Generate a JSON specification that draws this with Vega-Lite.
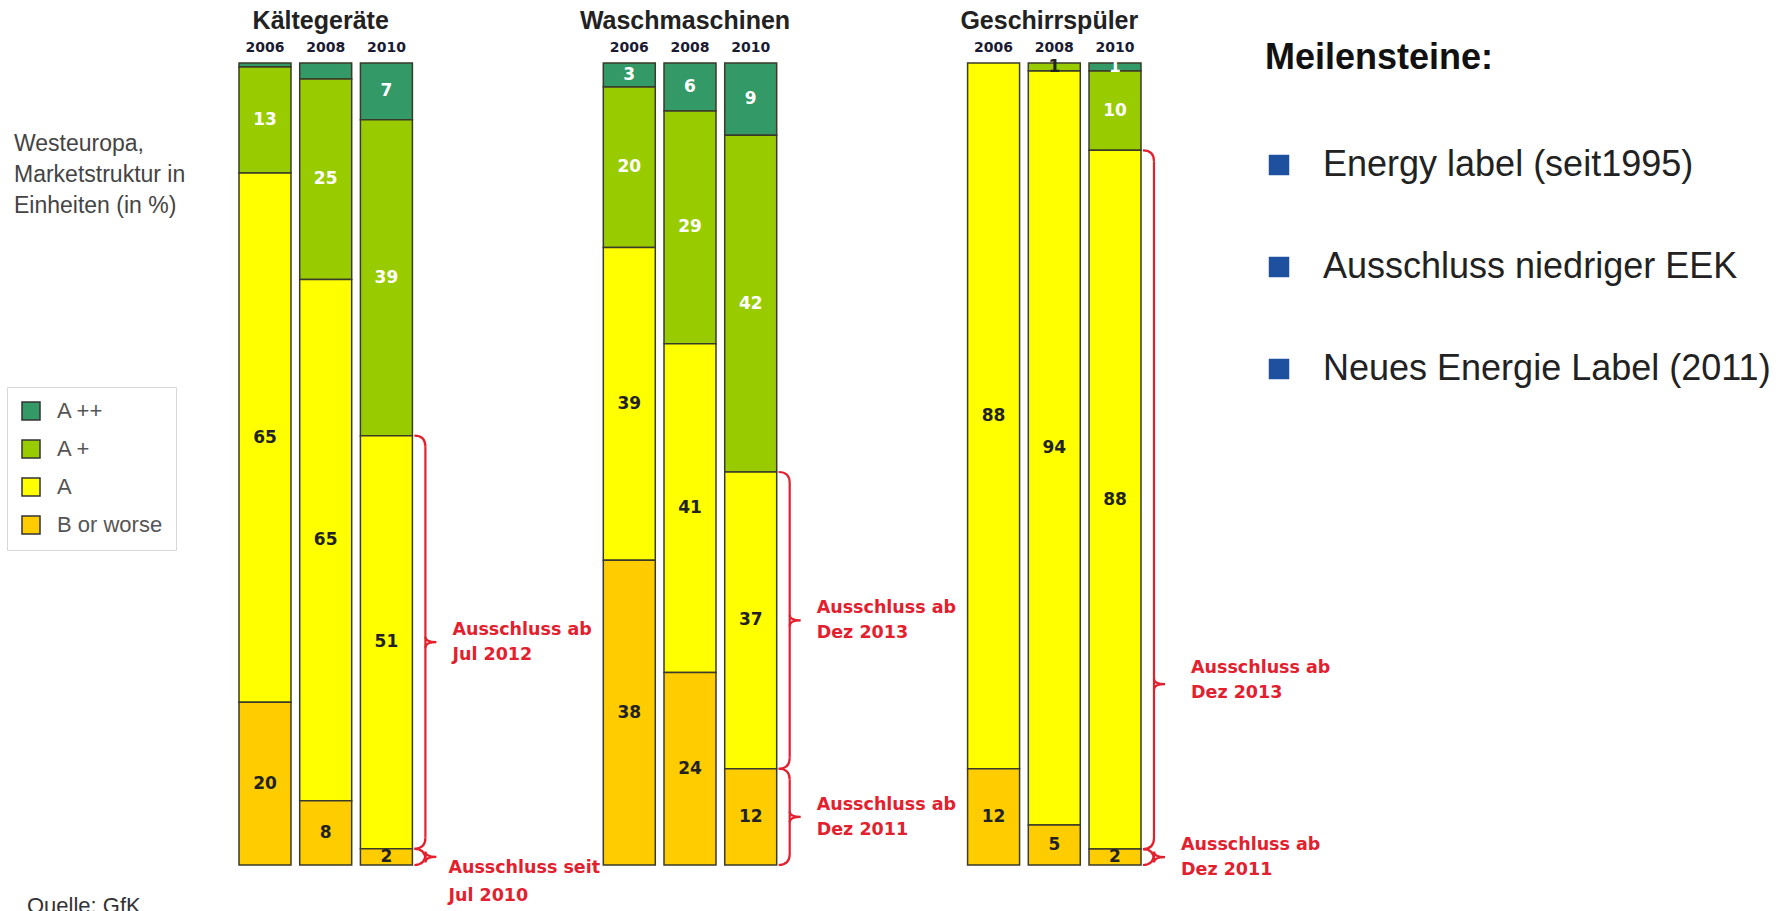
{
  "$schema": "https://vega.github.io/schema/vega-lite/v6.json",
  "width": 902,
  "height": 802,
  "autosize": "none",
  "padding": {"left": 239, "top": 63, "right": 646, "bottom": 46},
  "background": "white",
  "config": {
    "view": {"stroke": null},
    "axis": {"grid": false, "labels": false, "ticks": false, "domain": false}
  },
  "datasets": {
    "klassen": [
      {"gruppe": "Kältegeräte", "jahr": "2006", "klasse": "A ++", "rang": 4, "anteil": 0.5, "label": "", "hinweis": ""},
      {"gruppe": "Kältegeräte", "jahr": "2006", "klasse": "A +", "rang": 3, "anteil": 13, "label": "13", "hinweis": ""},
      {"gruppe": "Kältegeräte", "jahr": "2006", "klasse": "A", "rang": 2, "anteil": 65, "label": "65", "hinweis": ""},
      {"gruppe": "Kältegeräte", "jahr": "2006", "klasse": "B or worse", "rang": 1, "anteil": 20, "label": "20", "hinweis": ""},
      {"gruppe": "Kältegeräte", "jahr": "2008", "klasse": "A ++", "rang": 4, "anteil": 2, "label": "", "hinweis": ""},
      {"gruppe": "Kältegeräte", "jahr": "2008", "klasse": "A +", "rang": 3, "anteil": 25, "label": "25", "hinweis": ""},
      {"gruppe": "Kältegeräte", "jahr": "2008", "klasse": "A", "rang": 2, "anteil": 65, "label": "65", "hinweis": ""},
      {"gruppe": "Kältegeräte", "jahr": "2008", "klasse": "B or worse", "rang": 1, "anteil": 8, "label": "8", "hinweis": ""},
      {"gruppe": "Kältegeräte", "jahr": "2010", "klasse": "A ++", "rang": 4, "anteil": 7, "label": "7", "hinweis": ""},
      {"gruppe": "Kältegeräte", "jahr": "2010", "klasse": "A +", "rang": 3, "anteil": 39, "label": "39", "hinweis": ""},
      {"gruppe": "Kältegeräte", "jahr": "2010", "klasse": "A", "rang": 2, "anteil": 51, "label": "51", "hinweis": "Ausschluss ab\nJul 2012"},
      {"gruppe": "Kältegeräte", "jahr": "2010", "klasse": "B or worse", "rang": 1, "anteil": 2, "label": "2", "hinweis": "Ausschluss seit\nJul 2010"},
      {"gruppe": "Waschmaschinen", "jahr": "2006", "klasse": "A ++", "rang": 4, "anteil": 3, "label": "3", "hinweis": ""},
      {"gruppe": "Waschmaschinen", "jahr": "2006", "klasse": "A +", "rang": 3, "anteil": 20, "label": "20", "hinweis": ""},
      {"gruppe": "Waschmaschinen", "jahr": "2006", "klasse": "A", "rang": 2, "anteil": 39, "label": "39", "hinweis": ""},
      {"gruppe": "Waschmaschinen", "jahr": "2006", "klasse": "B or worse", "rang": 1, "anteil": 38, "label": "38", "hinweis": ""},
      {"gruppe": "Waschmaschinen", "jahr": "2008", "klasse": "A ++", "rang": 4, "anteil": 6, "label": "6", "hinweis": ""},
      {"gruppe": "Waschmaschinen", "jahr": "2008", "klasse": "A +", "rang": 3, "anteil": 29, "label": "29", "hinweis": ""},
      {"gruppe": "Waschmaschinen", "jahr": "2008", "klasse": "A", "rang": 2, "anteil": 41, "label": "41", "hinweis": ""},
      {"gruppe": "Waschmaschinen", "jahr": "2008", "klasse": "B or worse", "rang": 1, "anteil": 24, "label": "24", "hinweis": ""},
      {"gruppe": "Waschmaschinen", "jahr": "2010", "klasse": "A ++", "rang": 4, "anteil": 9, "label": "9", "hinweis": ""},
      {"gruppe": "Waschmaschinen", "jahr": "2010", "klasse": "A +", "rang": 3, "anteil": 42, "label": "42", "hinweis": ""},
      {"gruppe": "Waschmaschinen", "jahr": "2010", "klasse": "A", "rang": 2, "anteil": 37, "label": "37", "hinweis": "Ausschluss ab\nDez 2013"},
      {"gruppe": "Waschmaschinen", "jahr": "2010", "klasse": "B or worse", "rang": 1, "anteil": 12, "label": "12", "hinweis": "Ausschluss ab\nDez 2011"},
      {"gruppe": "Geschirrspüler", "jahr": "2006", "klasse": "A", "rang": 2, "anteil": 88, "label": "88", "hinweis": ""},
      {"gruppe": "Geschirrspüler", "jahr": "2006", "klasse": "B or worse", "rang": 1, "anteil": 12, "label": "12", "hinweis": ""},
      {"gruppe": "Geschirrspüler", "jahr": "2008", "klasse": "A +", "rang": 3, "anteil": 1, "label": "1", "hinweis": ""},
      {"gruppe": "Geschirrspüler", "jahr": "2008", "klasse": "A", "rang": 2, "anteil": 94, "label": "94", "hinweis": ""},
      {"gruppe": "Geschirrspüler", "jahr": "2008", "klasse": "B or worse", "rang": 1, "anteil": 5, "label": "5", "hinweis": ""},
      {"gruppe": "Geschirrspüler", "jahr": "2010", "klasse": "A ++", "rang": 4, "anteil": 1, "label": "1", "hinweis": ""},
      {"gruppe": "Geschirrspüler", "jahr": "2010", "klasse": "A +", "rang": 3, "anteil": 10, "label": "10", "hinweis": ""},
      {"gruppe": "Geschirrspüler", "jahr": "2010", "klasse": "A", "rang": 2, "anteil": 88, "label": "88", "hinweis": "Ausschluss ab\nDez 2013"},
      {"gruppe": "Geschirrspüler", "jahr": "2010", "klasse": "B or worse", "rang": 1, "anteil": 2, "label": "2", "hinweis": "Ausschluss ab\nDez 2011"}
    ],
    "meilensteine": [
      {"meilenstein": "Energy label (seit1995)"},
      {"meilenstein": "Ausschluss niedriger EEK"},
      {"meilenstein": "Neues Energie Label (2011)"}
    ]
  },
  "data": {"name": "klassen"},
  "layer": [
    {
      "mark": {"type": "bar", "stroke": "#3a3a2a", "strokeWidth": 1.5},
      "encoding": {
        "x": {
          "field": "gruppe", "type": "nominal",
          "scale": {"domain": ["Kältegeräte", "Waschmaschinen", "Geschirrspüler"], "paddingInner": 0.524, "paddingOuter": 0},
          "axis": null
        },
        "xOffset": {"field": "jahr", "type": "nominal", "scale": {"domain": ["2006", "2008", "2010"], "paddingInner": 0.1436, "paddingOuter": 0}},
        "y": {
          "field": "anteil", "type": "quantitative", "stack": "normalize",
          "scale": {"domain": [0, 1], "nice": false},
          "axis": null
        },
        "color": {
          "field": "klasse", "type": "nominal",
          "scale": {"domain": ["A ++", "A +", "A", "B or worse"], "range": ["#339966", "#99cc00", "#ffff00", "#ffcc00"]},
          "legend": {"title": null, "orient": "none", "legendX": -232, "legendY": 324, "padding": 13, "strokeColor": "#d8d8d8", "fillColor": "white", "symbolType": "square", "symbolSize": 324, "symbolStrokeColor": "#333333", "symbolStrokeWidth": 1.5, "symbolOpacity": 1, "labelFont": "Liberation Sans", "labelFontSize": 22, "labelColor": "#555555", "labelOffset": 15, "rowPadding": 14}
        },
        "order": {"field": "rang", "type": "quantitative"}
      }
    },
    {
      "mark": {"type": "text", "font": "DejaVu Sans", "fontWeight": "bold", "fontSize": 17, "baseline": "middle", "align": "center"},
      "encoding": {
        "x": {"field": "gruppe", "type": "nominal", "axis": null},
        "xOffset": {"field": "jahr", "type": "nominal"},
        "y": {"field": "anteil", "type": "quantitative", "stack": "normalize", "bandPosition": 0.5, "axis": null},
        "detail": {"field": "klasse", "type": "nominal"},
        "order": {"field": "rang", "type": "quantitative"},
        "text": {"field": "label", "type": "nominal"},
        "color": {"condition": {"test": "datum.rang == 4 || (datum.rang == 3 && datum.anteil > 1)", "value": "#ffffff"}, "value": "#222222"}
      }
    },
    {
      "transform": [{"filter": "datum.klasse == 'A'"}],
      "mark": {"type": "text", "font": "DejaVu Sans", "fontWeight": "bold", "fontSize": 14, "baseline": "middle", "align": "center", "dy": -15, "color": "#1a1a33"},
      "encoding": {
        "x": {"field": "gruppe", "type": "nominal", "axis": null},
        "xOffset": {"field": "jahr", "type": "nominal"},
        "y": {"datum": 1, "type": "quantitative", "axis": null},
        "text": {"field": "jahr", "type": "nominal"}
      }
    },
    {
      "transform": [{"filter": "datum.jahr == '2006' && datum.klasse == 'A'"}],
      "mark": {"type": "text", "font": "Liberation Sans", "fontWeight": "bold", "fontSize": 25, "baseline": "alphabetic", "align": "center", "dy": -34, "dx": -5, "color": "#222222"},
      "encoding": {
        "x": {"field": "gruppe", "type": "nominal", "axis": null},
        "y": {"datum": 1, "type": "quantitative", "axis": null},
        "text": {"field": "gruppe", "type": "nominal"}
      }
    },
    {
      "data": {"values": [{"notiz": "Westeuropa, Marketstruktur in Einheiten (in %)"}]},
      "mark": {"type": "text", "font": "Liberation Sans", "fontSize": 23, "align": "left", "baseline": "middle", "lineHeight": 31, "dx": -225, "dy": 81, "color": "#444444", "text": ["Westeuropa,", "Marketstruktur in", "Einheiten (in %)"]},
      "encoding": {
        "x": {"datum": "Kältegeräte", "type": "nominal", "bandPosition": 0, "axis": null},
        "y": {"datum": 1, "type": "quantitative", "axis": null}
      }
    },
    {
      "data": {"values": [{"notiz": "Quelle: GfK"}]},
      "mark": {"type": "text", "font": "Liberation Sans", "fontSize": 22, "align": "left", "baseline": "top", "dx": -212, "dy": 31, "color": "#333333"},
      "encoding": {
        "x": {"datum": "Kältegeräte", "type": "nominal", "bandPosition": 0, "axis": null},
        "y": {"datum": 0, "type": "quantitative", "axis": null},
        "text": {"field": "notiz", "type": "nominal"}
      }
    },
    {
      "transform": [
        {"filter": "datum.jahr == '2010'"},
        {"stack": "anteil", "groupby": ["gruppe"], "sort": [{"field": "rang", "order": "ascending"}], "offset": "normalize", "as": ["u0", "u1"]},
        {"filter": "datum.hinweis"}
      ],
      "mark": {"type": "rule", "color": "#e3202e", "strokeWidth": 2.2, "xOffset": 13, "yOffset": 11, "y2Offset": -11},
      "encoding": {
        "x": {"field": "gruppe", "type": "nominal", "bandPosition": 1, "axis": null},
        "y": {"field": "u1", "type": "quantitative", "axis": null},
        "y2": {"field": "u0"}
      }
    },
    {
      "transform": [
        {"filter": "datum.jahr == '2010'"},
        {"stack": "anteil", "groupby": ["gruppe"], "sort": [{"field": "rang", "order": "ascending"}], "offset": "normalize", "as": ["u0", "u1"]},
        {"filter": "datum.hinweis"}
      ],
      "mark": {"type": "point", "shape": "M -1 -1 Q 1 -1 1 1", "size": 121, "filled": false, "opacity": 1, "color": "#e3202e", "strokeWidth": 2.2, "xOffset": 7.5, "yOffset": 5.5},
      "encoding": {
        "x": {"field": "gruppe", "type": "nominal", "bandPosition": 1, "axis": null},
        "y": {"field": "u1", "type": "quantitative", "axis": null}
      }
    },
    {
      "transform": [
        {"filter": "datum.jahr == '2010'"},
        {"stack": "anteil", "groupby": ["gruppe"], "sort": [{"field": "rang", "order": "ascending"}], "offset": "normalize", "as": ["u0", "u1"]},
        {"filter": "datum.hinweis"}
      ],
      "mark": {"type": "point", "shape": "M 1 -1 Q 1 1 -1 1", "size": 121, "filled": false, "opacity": 1, "color": "#e3202e", "strokeWidth": 2.2, "xOffset": 7.5, "yOffset": -5.5},
      "encoding": {
        "x": {"field": "gruppe", "type": "nominal", "bandPosition": 1, "axis": null},
        "y": {"field": "u0", "type": "quantitative", "axis": null}
      }
    },
    {
      "transform": [{"filter": "datum.jahr == '2010'"}],
      "mark": {"type": "point", "shape": "M -1 -1 Q -1 0 1 0 Q -1 0 -1 1", "size": 121, "filled": false, "color": "#e3202e", "strokeWidth": 2.2, "xOffset": 18.5},
      "encoding": {
        "x": {"field": "gruppe", "type": "nominal", "bandPosition": 1, "axis": null},
        "y": {"field": "anteil", "type": "quantitative", "stack": "normalize", "bandPosition": 0.5, "axis": null},
        "detail": {"field": "klasse", "type": "nominal"},
        "order": {"field": "rang", "type": "quantitative"},
        "opacity": {"condition": {"test": "datum.hinweis && !(datum.gruppe == 'Geschirrspüler' && datum.rang == 2)", "value": 1}, "value": 0}
      }
    },
    {
      "transform": [{"filter": "datum.jahr == '2010'"}],
      "mark": {"type": "point", "shape": "M -1 -1 Q -1 0 1 0 Q -1 0 -1 1", "size": 121, "filled": false, "color": "#e3202e", "strokeWidth": 2.2, "xOffset": 18.5},
      "encoding": {
        "x": {"field": "gruppe", "type": "nominal", "bandPosition": 1, "axis": null},
        "y": {"field": "anteil", "type": "quantitative", "stack": "normalize", "bandPosition": 0.236, "axis": null},
        "detail": {"field": "klasse", "type": "nominal"},
        "order": {"field": "rang", "type": "quantitative"},
        "opacity": {"condition": {"test": "datum.gruppe == 'Geschirrspüler' && datum.rang == 2", "value": 1}, "value": 0}
      }
    },
    {
      "transform": [{"filter": "datum.jahr == '2010'"}],
      "mark": {"type": "text", "font": "DejaVu Sans", "fontWeight": "bold", "fontSize": 17.5, "align": "left", "baseline": "middle", "lineBreak": "\n", "lineHeight": 25, "dx": 40, "dy": -12, "color": "#e3202e"},
      "encoding": {
        "x": {"field": "gruppe", "type": "nominal", "bandPosition": 1, "axis": null},
        "y": {"field": "anteil", "type": "quantitative", "stack": "normalize", "bandPosition": 0.5, "axis": null},
        "detail": {"field": "klasse", "type": "nominal"},
        "order": {"field": "rang", "type": "quantitative"},
        "text": {"field": "hinweis", "type": "nominal"},
        "opacity": {"condition": {"test": "datum.hinweis && !(datum.gruppe == 'Geschirrspüler' && datum.rang == 2) && !(datum.gruppe == 'Kältegeräte' && datum.rang == 1)", "value": 1}, "value": 0}
      }
    },
    {
      "transform": [{"filter": "datum.jahr == '2010'"}],
      "mark": {"type": "text", "font": "DejaVu Sans", "fontWeight": "bold", "fontSize": 17.5, "align": "left", "baseline": "middle", "lineBreak": "\n", "lineHeight": 25, "dx": 50, "dy": -16, "color": "#e3202e"},
      "encoding": {
        "x": {"field": "gruppe", "type": "nominal", "bandPosition": 1, "axis": null},
        "y": {"field": "anteil", "type": "quantitative", "stack": "normalize", "bandPosition": 0.236, "axis": null},
        "detail": {"field": "klasse", "type": "nominal"},
        "order": {"field": "rang", "type": "quantitative"},
        "text": {"field": "hinweis", "type": "nominal"},
        "opacity": {"condition": {"test": "datum.gruppe == 'Geschirrspüler' && datum.rang == 2", "value": 1}, "value": 0}
      }
    },
    {
      "transform": [{"filter": "datum.jahr == '2010'"}],
      "mark": {"type": "text", "font": "DejaVu Sans", "fontWeight": "bold", "fontSize": 17.5, "align": "left", "baseline": "middle", "lineBreak": "\n", "lineHeight": 28, "dx": 36, "dy": 11, "color": "#e3202e"},
      "encoding": {
        "x": {"field": "gruppe", "type": "nominal", "bandPosition": 1, "axis": null},
        "y": {"field": "anteil", "type": "quantitative", "stack": "normalize", "bandPosition": 0.5, "axis": null},
        "detail": {"field": "klasse", "type": "nominal"},
        "order": {"field": "rang", "type": "quantitative"},
        "text": {"field": "hinweis", "type": "nominal"},
        "opacity": {"condition": {"test": "datum.gruppe == 'Kältegeräte' && datum.rang == 1", "value": 1}, "value": 0}
      }
    },
    {
      "data": {"name": "meilensteine"},
      "mark": {"type": "point", "shape": "square", "filled": true, "opacity": 0},
      "encoding": {
        "fill": {
          "field": "meilenstein", "type": "nominal",
          "scale": {"domain": ["Energy label (seit1995)", "Ausschluss niedriger EEK", "Neues Energie Label (2011)"], "range": ["#1e50a0", "#1e50a0", "#1e50a0"]},
          "legend": {"title": "Meilensteine:", "orient": "none", "legendX": 1026, "legendY": -22, "padding": 0, "titleFont": "Liberation Sans", "titleFontSize": 36, "titleFontWeight": "bold", "titleColor": "#111111", "titlePadding": 70, "titleLimit": 600, "symbolType": "square", "symbolSize": 420, "symbolOpacity": 1, "symbolStrokeWidth": 0, "symbolOffset": -4, "labelFont": "Liberation Sans", "labelFontSize": 36, "labelColor": "#222222", "labelOffset": 26, "labelLimit": 700, "rowPadding": 66}
        }
      }
    }
  ]
}
